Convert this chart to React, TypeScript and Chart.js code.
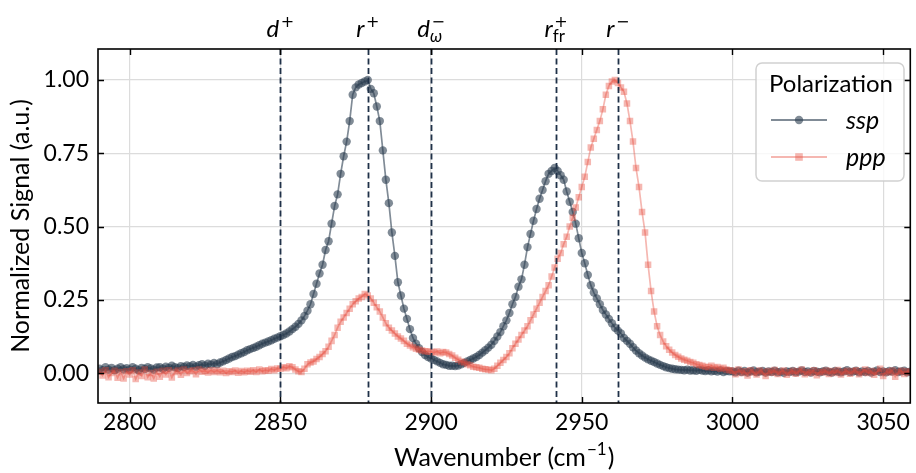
import React, { useEffect, useRef } from "react";
import { Chart, registerables } from "chart.js";

Chart.register(...registerables);

// Measurement grid (cm^-1), 1 cm^-1 spacing from 2790 to 3059
const WAVENUMBERS: number[] = Array.from({ length: 270 }, (_, i) => 2790 + i);

const SSP: number[] = [
  0.015, 0.01, 0.02, 0.012, 0.018, 0.01, 0.015, 0.02, 0.013, 0.017,
  0.012, 0.02, 0.015, 0.01, 0.018, 0.014, 0.02, 0.016, 0.012, 0.019,
  0.02, 0.015, 0.022, 0.018, 0.025, 0.02, 0.017, 0.024, 0.021, 0.026,
  0.023, 0.028, 0.022, 0.027, 0.03, 0.025, 0.032, 0.029, 0.035, 0.03,
  0.036, 0.04, 0.045, 0.05, 0.055, 0.058, 0.063, 0.068, 0.072, 0.078,
  0.082, 0.086, 0.09, 0.095, 0.1, 0.104, 0.108, 0.112, 0.117, 0.121,
  0.126, 0.13, 0.135, 0.142, 0.15, 0.158, 0.168, 0.18, 0.195, 0.213,
  0.235, 0.27, 0.305, 0.34, 0.37, 0.42, 0.45, 0.51, 0.57, 0.61,
  0.68, 0.74, 0.79, 0.86, 0.95, 0.975, 0.985, 0.99, 0.995, 1.0,
  0.97, 0.955, 0.91, 0.86, 0.76, 0.66, 0.58, 0.48, 0.4, 0.31,
  0.265, 0.22, 0.185, 0.15, 0.12, 0.1, 0.085, 0.072, 0.062, 0.055,
  0.05, 0.045, 0.04, 0.035, 0.03, 0.028, 0.025, 0.025, 0.024, 0.026,
  0.03, 0.035, 0.04, 0.045, 0.05, 0.055, 0.062, 0.07, 0.078, 0.087,
  0.097, 0.11, 0.125, 0.14, 0.16, 0.18, 0.205, 0.235, 0.26, 0.295,
  0.32, 0.37, 0.43, 0.475, 0.52, 0.56, 0.595, 0.625, 0.655, 0.68,
  0.69, 0.7, 0.69, 0.675, 0.66, 0.62, 0.585, 0.55, 0.51, 0.46,
  0.41, 0.375, 0.335, 0.3, 0.275, 0.255, 0.235, 0.215, 0.2, 0.185,
  0.17, 0.155, 0.145, 0.135, 0.12, 0.11, 0.1, 0.088, 0.077, 0.068,
  0.06, 0.053, 0.047, 0.042, 0.038, 0.033, 0.028, 0.024, 0.02, 0.017,
  0.015, 0.013, 0.012, 0.011, 0.01, 0.012, 0.009, 0.01, 0.008, 0.011,
  0.009, 0.007, 0.01, 0.006, 0.008, 0.005, 0.009, 0.004, 0.007, 0.006,
  0.006, 0.003, 0.008, 0.004, 0.007, 0.002, 0.006, 0.009, 0.003, 0.005,
  0.007, 0.002, 0.006, 0.004, 0.008, 0.003, 0.005, 0.001, 0.006, 0.004,
  0.007, 0.003, 0.005, 0.009, 0.004, 0.006, 0.002, 0.007, 0.005, 0.003,
  0.006, 0.008, 0.004, 0.002, 0.007, 0.005, 0.003, 0.006, 0.01, 0.004,
  0.005, 0.008, 0.003, 0.006, 0.004, 0.007, 0.002, 0.005, 0.009, 0.004,
  0.006, 0.003, 0.007, 0.005, 0.01, 0.004, 0.006, 0.008, 0.003, 0.005,
];

const PPP: number[] = [
  0.005, -0.008, 0.01, -0.014, 0.0, 0.008, -0.016, 0.004, -0.018, 0.006,
  -0.005, 0.01, -0.02, 0.002, -0.01, 0.012, -0.014, 0.0, -0.018, 0.005,
  -0.012, 0.008, -0.005, 0.01, -0.015, 0.004, 0.009, -0.006, 0.012, 0.0,
  0.006, 0.01, -0.004, 0.012, 0.005, 0.008, 0.002, 0.01, 0.004, 0.009,
  0.003, 0.008, 0.0, 0.006, 0.004, 0.009, 0.001, 0.007, 0.003, 0.008,
  0.005, 0.01, 0.004, 0.012, 0.006, 0.01, 0.008, 0.014, 0.01, 0.016,
  0.015, 0.02, 0.017, 0.023, 0.02, 0.012, 0.006, 0.004, 0.015, 0.03,
  0.036, 0.04, 0.048, 0.055, 0.065, 0.075, 0.09, 0.11, 0.13, 0.155,
  0.175, 0.19, 0.205, 0.22, 0.235, 0.245, 0.255, 0.26, 0.27, 0.265,
  0.255, 0.24, 0.225, 0.21, 0.19, 0.17, 0.155, 0.145, 0.135, 0.125,
  0.118, 0.11, 0.1, 0.094, 0.088, 0.083, 0.08, 0.077, 0.075, 0.074,
  0.073, 0.07, 0.074, 0.068, 0.072, 0.07, 0.065, 0.06, 0.052, 0.046,
  0.04, 0.036, 0.03, 0.027, 0.022, 0.02, 0.018, 0.015, 0.013, 0.012,
  0.01, 0.015, 0.025, 0.035, 0.045, 0.055, 0.068, 0.085, 0.1, 0.115,
  0.13, 0.145, 0.16, 0.18, 0.2, 0.22, 0.24, 0.26, 0.28, 0.3,
  0.33, 0.36, 0.39, 0.41, 0.44, 0.465, 0.5, 0.53, 0.565, 0.6,
  0.635, 0.67, 0.72, 0.77, 0.8, 0.83, 0.86, 0.9, 0.95, 0.98,
  0.995, 1.0, 0.99, 0.975, 0.96, 0.92, 0.86, 0.79, 0.7, 0.635,
  0.55, 0.48, 0.37, 0.28, 0.21, 0.16, 0.13, 0.108, 0.092, 0.08,
  0.07, 0.062, 0.056, 0.05, 0.046, 0.042, 0.038, 0.035, 0.03, 0.028,
  0.025, 0.022, 0.02, 0.025, 0.018, 0.021, 0.015, 0.018, 0.012, 0.01,
  0.008, -0.004, 0.012, 0.0, 0.006, -0.008, 0.01, 0.002, -0.005, 0.009,
  0.004, -0.01, 0.007, 0.001, 0.011, -0.003, 0.005, 0.009, -0.006, 0.003,
  0.008, -0.002, 0.006, 0.012, -0.004, 0.004, 0.0, 0.01, -0.007, 0.005,
  0.002, 0.009, -0.003, 0.007, 0.0, 0.011, -0.005, 0.004, 0.008, -0.002,
  0.006, 0.01, -0.004, 0.003, 0.012, 0.0, 0.007, -0.006, 0.005, 0.015,
  -0.01, 0.006, 0.002, 0.009, -0.012, 0.004, 0.008, -0.003, 0.006, 0.002,
];

const X_TICKS: number[] = [2800, 2850, 2900, 2950, 3000, 3050];
const Y_TICKS: number[] = [0, 0.25, 0.5, 0.75, 1.0];

// Peak assignments: position (cm^-1), main symbol, superscript, subscript
const PEAK_POS: number[] = [2850, 2879, 2900, 2941.5, 2962];
const PEAK_MAIN: string[] = ["d", "r", "d", "r", "r"];
const PEAK_SUP: string[] = ["+", "+", "\u2212", "+", "\u2212"];
const PEAK_SUB: string[] = ["", "", "\u03c9", "fr", ""];

const SERIES_NAMES: string[] = ["ssp", "ppp"];

const FONT = "Lato, 'Open Sans', 'DejaVu Sans', sans-serif";
const SYM_FONT = "'DejaVu Sans', sans-serif";
const SSP_COLOR = "rgba(44,62,80,0.6)";
const PPP_COLOR = "rgba(231,76,60,0.4)";
const PEAK_COLOR = "#1f3148";

const overlayPlugin = {
  id: "overlay",
  afterDatasetsDraw(chart: any) {
    const { ctx, chartArea } = chart;
    const xs = chart.scales.x;
    ctx.save();
    ctx.strokeStyle = PEAK_COLOR;
    ctx.lineWidth = 1.8;
    ctx.setLineDash([6, 3.5]);
    PEAK_POS.forEach((p) => {
      const px = Math.round(xs.getPixelForValue(p)) + 0.5;
      ctx.beginPath();
      ctx.moveTo(px, chartArea.top);
      ctx.lineTo(px, chartArea.bottom);
      ctx.stroke();
    });
    ctx.restore();
  },
  afterDraw(chart: any) {
    const { ctx, chartArea } = chart;
    const xs = chart.scales.x;
    const ys = chart.scales.y;
    const { left, right, top, bottom } = chartArea;
    ctx.save();
    // frame
    ctx.strokeStyle = "#000";
    ctx.lineWidth = 1.6;
    ctx.setLineDash([]);
    ctx.strokeRect(left, top, right - left, bottom - top);
    // inward ticks
    ctx.lineWidth = 1.4;
    const TL = 6;
    X_TICKS.forEach((t) => {
      const px = Math.round(xs.getPixelForValue(t)) + 0.5;
      ctx.beginPath();
      ctx.moveTo(px, bottom);
      ctx.lineTo(px, bottom - TL);
      ctx.moveTo(px, top);
      ctx.lineTo(px, top + TL);
      ctx.stroke();
    });
    Y_TICKS.forEach((t) => {
      const py = Math.round(ys.getPixelForValue(t)) + 0.5;
      ctx.beginPath();
      ctx.moveTo(left, py);
      ctx.lineTo(left + TL, py);
      ctx.moveTo(right, py);
      ctx.lineTo(right - TL, py);
      ctx.stroke();
    });

    // peak labels
    ctx.fillStyle = "#000";
    ctx.textBaseline = "alphabetic";
    ctx.textAlign = "left";
    const base = 37;
    const MAIN_F = `italic 24px ${FONT}`;
    const SUP_F = `16px ${SYM_FONT}`;
    PEAK_POS.forEach((p, i) => {
      const cx = xs.getPixelForValue(p);
      ctx.font = MAIN_F;
      const mw = ctx.measureText(PEAK_MAIN[i]).width;
      ctx.font = SUP_F;
      const sw = ctx.measureText(PEAK_SUP[i]).width;
      const subItalic = PEAK_SUB[i] === "\u03c9";
      const SUB_F = `${subItalic ? "italic " : ""}17px ${FONT}`;
      ctx.font = SUB_F;
      const bw = PEAK_SUB[i] ? ctx.measureText(PEAK_SUB[i]).width : 0;
      const total = mw + 1.5 + Math.max(sw, bw);
      const x0 = cx - total / 2;
      ctx.font = MAIN_F;
      ctx.fillText(PEAK_MAIN[i], x0, base);
      ctx.font = SUP_F;
      ctx.fillText(PEAK_SUP[i], x0 + mw + 1.5, base - 10);
      if (PEAK_SUB[i]) {
        ctx.font = SUB_F;
        ctx.fillText(PEAK_SUB[i], x0 + mw, base + 5);
      }
    });

    // axis titles
    const TF = `25px ${FONT}`;
    const TSF = `17px ${FONT}`;
    const t1 = "Wavenumber (cm";
    const t2 = "\u22121";
    const t3 = ")";
    ctx.font = TSF;
    const w2 = ctx.measureText(t2).width;
    ctx.font = TF;
    const w1 = ctx.measureText(t1).width;
    const w3 = ctx.measureText(t3).width;
    const tw = w1 + w2 + w3 + 2;
    const tx = (left + right) / 2 - tw / 2;
    const tb = 466;
    ctx.fillText(t1, tx, tb);
    ctx.fillText(t3, tx + w1 + w2 + 2, tb);
    ctx.font = TSF;
    ctx.fillText(t2, tx + w1 + 1, tb - 11);

    ctx.save();
    ctx.translate(21, (top + bottom) / 2);
    ctx.rotate(-Math.PI / 2);
    ctx.font = TF;
    ctx.textAlign = "center";
    ctx.textBaseline = "middle";
    ctx.fillText("Normalized Signal (a.u.)", 0, 0);
    ctx.restore();

    // legend
    const lx = 756, ly = 63, lw = 148, lh = 118, r = 6;
    ctx.beginPath();
    ctx.moveTo(lx + r, ly);
    ctx.arcTo(lx + lw, ly, lx + lw, ly + lh, r);
    ctx.arcTo(lx + lw, ly + lh, lx, ly + lh, r);
    ctx.arcTo(lx, ly + lh, lx, ly, r);
    ctx.arcTo(lx, ly, lx + lw, ly, r);
    ctx.closePath();
    ctx.fillStyle = "rgba(255,255,255,0.8)";
    ctx.fill();
    ctx.strokeStyle = "rgba(204,204,204,0.9)";
    ctx.lineWidth = 1.5;
    ctx.stroke();

    ctx.fillStyle = "#000";
    ctx.font = `24px ${FONT}`;
    ctx.textAlign = "center";
    ctx.textBaseline = "alphabetic";
    ctx.fillText("Polarization", lx + lw / 2 + 1, 92);

    const rows = [120, 157];
    const colors = [SSP_COLOR, PPP_COLOR];
    rows.forEach((ry, i) => {
      ctx.strokeStyle = colors[i];
      ctx.lineWidth = 1.8;
      ctx.beginPath();
      ctx.moveTo(771, ry);
      ctx.lineTo(827, ry);
      ctx.stroke();
      ctx.fillStyle = colors[i];
      if (i === 0) {
        ctx.beginPath();
        ctx.arc(799, ry, 4.2, 0, Math.PI * 2);
        ctx.fill();
      } else {
        ctx.fillRect(799 - 3.8, ry - 3.8, 7.6, 7.6);
      }
      ctx.fillStyle = "#000";
      ctx.font = `italic 25px ${FONT}`;
      ctx.textAlign = "left";
      ctx.fillText(SERIES_NAMES[i], 846, ry + 9);
    });
    ctx.restore();
  },
};

export default function App() {
  const ref = useRef<HTMLCanvasElement | null>(null);
  useEffect(() => {
    document.body.style.margin = "0";
    const canvas = ref.current;
    if (!canvas) return;
    const sspData = WAVENUMBERS.map((x, i) => ({ x, y: SSP[i] }));
    const pppData = WAVENUMBERS.map((x, i) => ({ x, y: PPP[i] }));
    const chart = new Chart(canvas, {
      type: "line",
      data: {
        datasets: [
          {
            label: SERIES_NAMES[0],
            data: sspData,
            borderColor: SSP_COLOR,
            backgroundColor: SSP_COLOR,
            borderWidth: 1.7,
            pointRadius: 4.2,
            pointStyle: "circle",
            pointBorderWidth: 0,
            pointBackgroundColor: SSP_COLOR,
            tension: 0,
            order: 2,
          },
          {
            label: SERIES_NAMES[1],
            data: pppData,
            borderColor: PPP_COLOR,
            backgroundColor: PPP_COLOR,
            borderWidth: 1.7,
            pointRadius: 4.6,
            pointStyle: "rect",
            pointBorderWidth: 0,
            pointBackgroundColor: PPP_COLOR,
            tension: 0,
            order: 1,
          },
        ],
      },
      options: {
        responsive: false,
        animation: false,
        events: [],
        layout: { padding: { top: 49, right: 1, left: 0, bottom: 0 } },
        plugins: {
          legend: { display: false },
          tooltip: { enabled: false },
          title: { display: false },
        },
        scales: {
          x: {
            type: "linear",
            min: 2789.5,
            max: 3059,
            afterFit: (s: any) => {
              s.height = 70;
            },
            afterBuildTicks: (s: any) => {
              s.ticks = X_TICKS.map((v) => ({ value: v }));
            },
            grid: { color: "#dcdcdc", lineWidth: 1.2, drawTicks: false },
            border: { display: false },
            ticks: {
              padding: 6,
              color: "#000",
              font: { family: FONT, size: 23 },
              callback: (v: any) => String(v),
              maxRotation: 0,
            },
          },
          y: {
            type: "linear",
            min: -0.102,
            max: 1.106,
            afterFit: (s: any) => {
              s.width = 98;
            },
            afterBuildTicks: (s: any) => {
              s.ticks = Y_TICKS.map((v) => ({ value: v }));
            },
            grid: { color: "#dcdcdc", lineWidth: 1.2, drawTicks: false },
            border: { display: false },
            ticks: {
              padding: 9,
              color: "#000",
              font: { family: FONT, size: 23 },
              callback: (v: any) => Number(v).toFixed(2),
            },
          },
        },
      },
      plugins: [overlayPlugin],
    });
    return () => chart.destroy();
  }, []);
  return <canvas ref={ref} width={916} height={473} style={{ display: "block" }} />;
}
